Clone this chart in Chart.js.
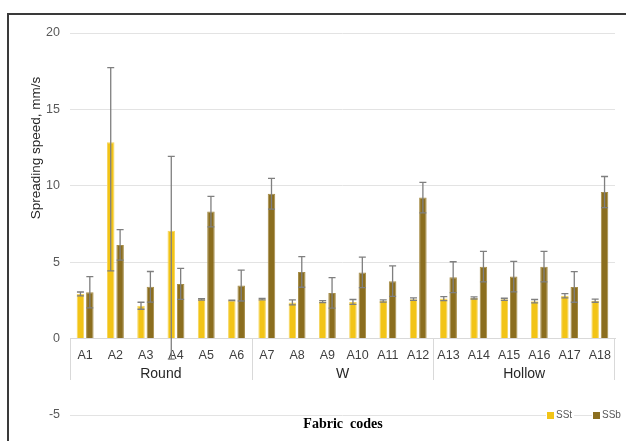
<!DOCTYPE html>
<html>
<head>
<meta charset="utf-8">
<script src="https://cdn.jsdelivr.net/npm/chart.js@4.4.1/dist/chart.umd.min.js"></script>
<style>
  html, body { margin: 0; padding: 0; background: #fff; }
  #wrap { width: 626px; height: 441px; position: relative; }
</style>
</head>
<body>
<div id="wrap"><canvas id="chart" width="626" height="441"></canvas></div>
<script>
// fabric codes and their groups
const codes = ['A1','A2','A3','A4','A5','A6','A7','A8','A9','A10','A11','A12','A13','A14','A15','A16','A17','A18'];
const groups = ['Round', 'W', 'Hollow'];
const groupSize = [6, 6, 6];

// SSt (top) spreading speed, mm/s
const sst = [2.92, 12.85, 2.15, 7.06, 2.57, 2.5, 2.58, 2.37, 2.42, 2.4, 2.46, 2.58, 2.62, 2.66, 2.57, 2.45, 2.8, 2.48];
const sstErrUp = [0.13, 4.88, 0.23, 4.87, 0.05, 0.02, 0.05, 0.16, 0.07, 0.16, 0.07, 0.08, 0.13, 0.07, 0.07, 0.11, 0.14, 0.1];
const sstErrDown = [0.13, 8.42, 0.23, 8.4, 0.05, 0.02, 0.05, 0.16, 0.07, 0.16, 0.07, 0.08, 0.13, 0.07, 0.07, 0.11, 0.14, 0.1];

// SSb (bottom) spreading speed, mm/s
const ssb = [3.03, 6.13, 3.39, 3.58, 8.31, 3.47, 9.48, 4.36, 2.99, 4.33, 3.76, 9.23, 4.02, 4.71, 4.06, 4.71, 3.38, 9.59];
const ssbErr = [1.02, 1.0, 1.0, 1.01, 1.0, 1.01, 1.0, 1.0, 1.0, 1.0, 1.0, 1.0, 1.01, 1.0, 1.0, 1.0, 1.0, 1.02];

// y axis
const yMin = -5, yMax = 20, yStep = 5;

const seriesNames = ['SSt', 'SSb'];
const seriesColors = ['#F2C417', '#8B6E1F'];

const errBars = [
  { up: sstErrUp, down: sstErrDown },
  { up: ssbErr, down: ssbErr }
];

// error bars drawn on top of bars
const errorBarPlugin = {
  id: 'errorBars',
  afterDatasetsDraw(chart) {
    const ctx = chart.ctx;
    const y = chart.scales.y;
    ctx.save();
    ctx.strokeStyle = '#7f7f7f';
    ctx.lineWidth = 1.3;
    chart.data.datasets.forEach((ds, di) => {
      const meta = chart.getDatasetMeta(di);
      meta.data.forEach((bar, i) => {
        const v = ds.data[i];
        const top = y.getPixelForValue(v + errBars[di].up[i]);
        const bot = y.getPixelForValue(v - errBars[di].down[i]);
        ctx.beginPath();
        ctx.moveTo(bar.x, top); ctx.lineTo(bar.x, bot);
        ctx.moveTo(bar.x - 3.5, top); ctx.lineTo(bar.x + 3.5, top);
        ctx.moveTo(bar.x - 3.5, bot); ctx.lineTo(bar.x + 3.5, bot);
        ctx.stroke();
      });
    });
    ctx.restore();
  }
};

// frame, y title, group labels, x title, legend
const decorPlugin = {
  id: 'decor',
  afterDraw(chart) {
    const ctx = chart.ctx;
    const x = chart.scales.x;
    const y = chart.scales.y;
    const zero = y.getPixelForValue(0);
    ctx.save();

    // outer frame (top + left)
    ctx.strokeStyle = '#3a3a3a';
    ctx.lineWidth = 2;
    ctx.beginPath();
    ctx.moveTo(626, 14); ctx.lineTo(8, 14); ctx.lineTo(8, 441);
    ctx.stroke();

    // group separators and names
    const half = (x.getPixelForValue(1) - x.getPixelForValue(0)) / 2;
    ctx.strokeStyle = '#d9d9d9';
    ctx.lineWidth = 1;
    let start = 0;
    ctx.fillStyle = '#262626';
    ctx.font = '14px "Liberation Sans", Arial, sans-serif';
    ctx.textAlign = 'center';
    ctx.textBaseline = 'middle';
    groups.forEach((g, gi) => {
      const end = start + groupSize[gi] - 1;
      const left = x.getPixelForValue(start) - half;
      ctx.beginPath();
      ctx.moveTo(Math.round(left) + 0.5, zero); ctx.lineTo(Math.round(left) + 0.5, 380);
      ctx.stroke();
      const cx = (x.getPixelForValue(start) + x.getPixelForValue(end)) / 2;
      ctx.fillText(g, cx, 374);
      start = end + 1;
    });
    const last = Math.round(x.getPixelForValue(codes.length - 1) + half) - 0.5;
    ctx.beginPath();
    ctx.moveTo(last, zero); ctx.lineTo(last, 380);
    ctx.stroke();

    // y axis title
    ctx.save();
    ctx.translate(36, 148);
    ctx.rotate(-Math.PI / 2);
    ctx.fillStyle = '#262626';
    ctx.font = '13.5px "Liberation Sans", Arial, sans-serif';
    ctx.fillText('Spreading speed, mm/s', 0, 0);
    ctx.restore();

    // x axis title
    ctx.fillStyle = '#000';
    ctx.font = 'bold 14px "Liberation Serif", "Times New Roman", serif';
    ctx.fillText('Fabric  codes', 343, 424);

    // legend
    ctx.font = '10px "Liberation Sans", Arial, sans-serif';
    ctx.textAlign = 'left';
    const legX = [547, 593];
    seriesNames.forEach((name, i) => {
      const w = ctx.measureText(name).width;
      ctx.fillStyle = '#fff';
      ctx.fillRect(legX[i] - 1, 409, w + 12, 12);
      ctx.fillStyle = seriesColors[i];
      ctx.fillRect(legX[i], 412, 7, 7);
      ctx.fillStyle = '#595959';
      ctx.fillText(name, legX[i] + 9, 415.5);
    });

    ctx.restore();
  }
};

new Chart(document.getElementById('chart'), {
  type: 'bar',
  data: {
    labels: codes,
    datasets: [
      {
        label: seriesNames[0],
        data: sst,
        backgroundColor: seriesColors[0],
        borderColor: '#F6D55E',
        borderWidth: 1,
        categoryPercentage: 0.62,
        barPercentage: 0.8
      },
      {
        label: seriesNames[1],
        data: ssb,
        backgroundColor: seriesColors[1],
        borderColor: '#A68D48',
        borderWidth: 1,
        categoryPercentage: 0.62,
        barPercentage: 0.8
      }
    ]
  },
  options: {
    responsive: false,
    animation: false,
    layout: { padding: { top: 33, bottom: 26, right: 11, left: 0 } },
    plugins: {
      legend: { display: false },
      tooltip: { enabled: false }
    },
    scales: {
      x: {
        position: { y: 0 },
        afterFit(scale) { scale.height = 0; },
        grid: { display: false },
        border: { display: true, color: '#d9d9d9', width: 1 },
        ticks: {
          color: '#404040',
          font: { size: 12.5, family: '"Liberation Sans", Arial, sans-serif' },
          padding: 1,
          autoSkip: false,
          maxRotation: 0
        }
      },
      y: {
        min: yMin,
        max: yMax,
        afterFit(scale) { scale.width = 70; },
        grid: { color: '#e3e3e3', drawTicks: false },
        border: { display: false },
        ticks: {
          stepSize: yStep,
          color: '#595959',
          font: { size: 12.5, family: '"Liberation Sans", Arial, sans-serif' },
          padding: 10
        }
      }
    }
  },
  plugins: [errorBarPlugin, decorPlugin]
});
</script>
</body>
</html>
